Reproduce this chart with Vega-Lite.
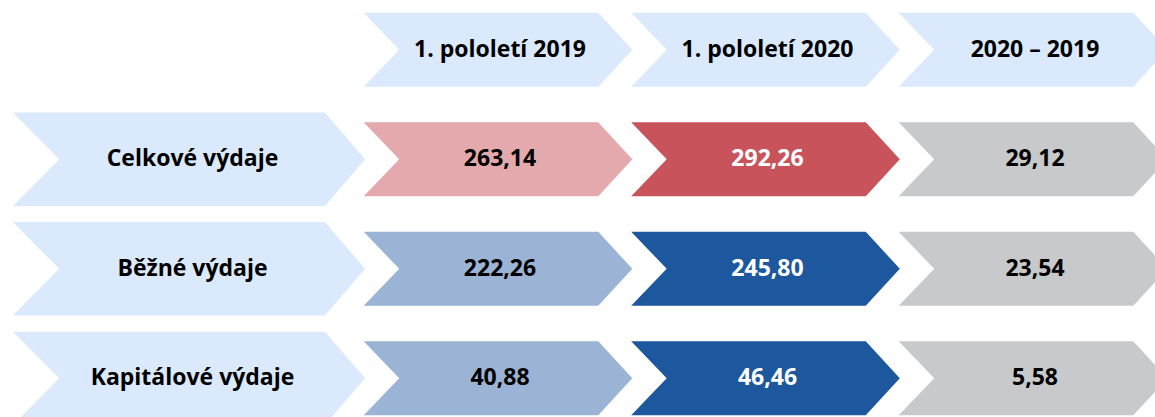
{
  "$schema": "https://vega.github.io/schema/vega-lite/v6.json",
  "autosize": {"type": "none"},
  "width": 1155,
  "height": 417,
  "padding": 0,
  "background": "white",
  "config": {"view": {"stroke": null}},
  "data": {
    "values": [
      {"row": 0, "col": 1, "text": "1. pololetí 2019", "cat": "header"},
      {"row": 0, "col": 2, "text": "1. pololetí 2020", "cat": "header"},
      {"row": 0, "col": 3, "text": "2020 – 2019", "cat": "header"},
      {"row": 1, "col": 0, "text": "Celkové výdaje", "cat": "label"},
      {"row": 1, "col": 1, "text": "263,14", "value": 263.14, "cat": "total2019"},
      {"row": 1, "col": 2, "text": "292,26", "value": 292.26, "cat": "total2020"},
      {"row": 1, "col": 3, "text": "29,12", "value": 29.12, "cat": "diff"},
      {"row": 2, "col": 0, "text": "Běžné výdaje", "cat": "label"},
      {"row": 2, "col": 1, "text": "222,26", "value": 222.26, "cat": "part2019"},
      {"row": 2, "col": 2, "text": "245,80", "value": 245.8, "cat": "part2020"},
      {"row": 2, "col": 3, "text": "23,54", "value": 23.54, "cat": "diff"},
      {"row": 3, "col": 0, "text": "Kapitálové výdaje", "cat": "label"},
      {"row": 3, "col": 1, "text": "40,88", "value": 40.88, "cat": "part2019"},
      {"row": 3, "col": 2, "text": "46,46", "value": 46.46, "cat": "part2020"},
      {"row": 3, "col": 3, "text": "5,58", "value": 5.58, "cat": "diff"}
    ]
  },
  "encoding": {
    "x": {"field": "col", "type": "quantitative", "axis": null,
          "scale": {"domain": [-0.8617, 3.4561], "nice": false, "zero": false}},
    "y": {"field": "row", "type": "quantitative", "axis": null,
          "scale": {"domain": [-0.4537, 3.3528], "nice": false, "zero": false, "reverse": true}}
  },
  "layer": [
    {
      "transform": [{"filter": "datum.cat === 'label'"}],
      "mark": {"type": "point", "filled": true, "opacity": 1, "strokeWidth": 0, "size": 8724, "xOffset": -41.5,
               "shape": "M-3.77,-1L2.91,-1L3.77,0L2.91,1L-3.77,1L-2.78,0Z"},
      "encoding": {
        "fill": {"field": "cat", "type": "nominal", "legend": null,
                 "scale": {"domain": ["header", "label", "total2019", "total2020", "part2019", "part2020", "diff"],
                           "range": ["#DAE9FB", "#DAE9FB", "#E4A9AD", "#C9535B", "#9BB4D5", "#1D579E", "#C8C9CB"]}}
      }
    },
    {
      "transform": [{"filter": "datum.cat !== 'label'"}],
      "mark": {"type": "point", "filled": true, "opacity": 1, "strokeWidth": 0, "size": 5476,
               "shape": "M-3.63,-1L2.71,-1L3.63,0L2.71,1L-3.63,1L-2.67,0Z"},
      "encoding": {
        "fill": {"field": "cat", "type": "nominal", "legend": null}
      }
    },
    {
      "transform": [{"filter": "datum.cat === 'label'"}],
      "mark": {"type": "text", "font": "Open Sans", "fontWeight": "bold", "fontSize": 23, "align": "center", "baseline": "middle", "xOffset": -38},
      "encoding": {
        "text": {"field": "text"},
        "color": {"value": "black"}
      }
    },
    {
      "transform": [{"filter": "datum.cat !== 'label'"}],
      "mark": {"type": "text", "font": "Open Sans", "fontWeight": "bold", "fontSize": 23, "align": "center", "baseline": "middle", "xOffset": 2},
      "encoding": {
        "text": {"field": "text"},
        "color": {"condition": {"test": "datum.cat === 'total2020' || datum.cat === 'part2020'", "value": "white"}, "value": "black"}
      }
    }
  ]
}
